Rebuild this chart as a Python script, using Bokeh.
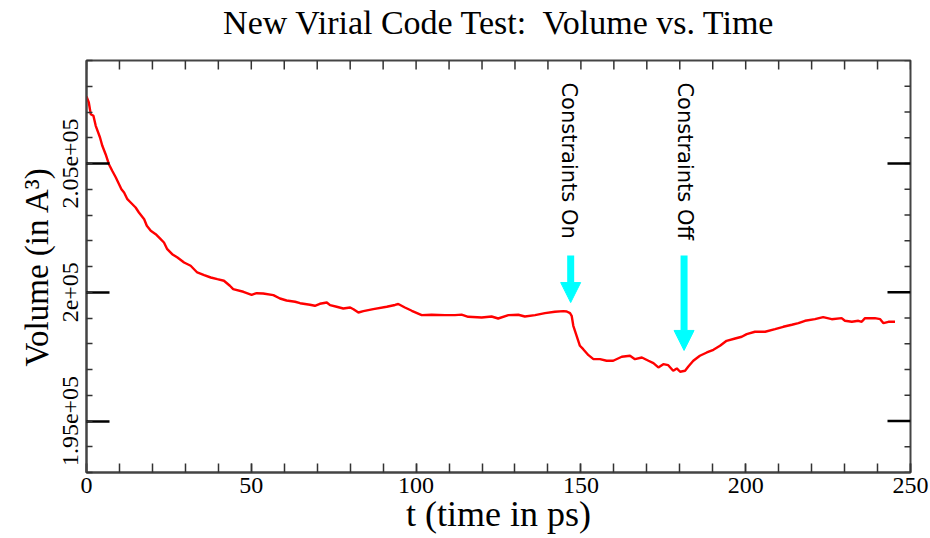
import math
from bokeh.plotting import figure
from bokeh.layouts import column
from bokeh.models import FixedTicker, Range1d, Arrow, NormalHead, ColumnDataSource
from bokeh.core.properties import value
from bokeh.embed import file_html
from bokeh.resources import INLINE

# ---- data ----
t = [0.0, 0.7, 1.3, 2.1, 2.8, 4.1, 4.8, 5.8, 6.8, 7.8, 8.9, 10.6, 11.4, 12.4, 13.4, 14.9,
     15.9, 17.5, 18.3, 19.5, 21.0, 22.5, 23.5, 24.5, 26.0, 27.6, 29.6, 31.6, 33.6, 35.7,
     37.7, 39.7, 41.7, 43.5, 44.5, 47.6, 50.1, 51.6, 53.6, 56.7, 58.7, 60.7, 63.3, 64.8,
     67.8, 69.3, 70.8, 72.9, 73.9, 75.9, 77.9, 80.0, 81.0, 82.5, 84.0, 87.0, 91.1, 93.6,
     94.6, 96.6, 98.7, 101.7, 104.7, 108.8, 111.8, 113.8, 115.8, 119.9, 122.9, 124.9,
     128.0, 131.0, 133.0, 136.1, 139.1, 142.1, 144.7, 145.7, 146.7, 147.2, 147.7, 148.7,
     149.7, 150.7, 152.3, 153.8, 155.8, 157.8, 159.8, 162.4, 164.9, 166.4, 168.5, 170.5,
     172.0, 173.5, 175.0, 176.5, 178.0, 179.1, 180.1, 181.6, 182.6, 184.1, 186.1, 188.2,
     190.2, 192.2, 194.2, 196.8, 198.8, 200.3, 202.8, 205.9, 208.9, 211.4, 214.0, 216.0,
     218.0, 221.0, 223.5, 226.1, 229.1, 230.1, 232.2, 234.2, 235.2, 236.2, 239.2, 240.8,
     241.8, 243.3, 245.3]
volume = [207602, 207369, 206914, 206852, 206464, 206010, 205687, 205361, 204973, 204717,
          204456, 204002, 203874, 203614, 203486, 203291, 203097, 202837, 202581, 202387,
          202255, 202061, 201932, 201672, 201478, 201350, 201156, 201028, 200768, 200663,
          200573, 200507, 200445, 200251, 200119, 200018, 199902, 199964, 199952, 199886,
          199758, 199680, 199630, 199575, 199513, 199474, 199552, 199603, 199498, 199436,
          199370, 199408, 199342, 199214, 199265, 199342, 199436, 199506, 199544, 199408,
          199280, 199110, 199125, 199110, 199110, 199130, 199047, 199020, 199059, 198981,
          199110, 199125, 199059, 199110, 199187, 199242, 199265, 199253, 199187, 199086,
          198698, 198310, 197921, 197789, 197556, 197401, 197401, 197339, 197339, 197494,
          197533, 197401, 197467, 197339, 197246, 197079, 197207, 197168, 196950, 197040,
          196912, 196950, 197118, 197339, 197533, 197661, 197766, 197921, 198115, 198205,
          198271, 198372, 198465, 198465, 198566, 198659, 198737, 198799, 198892, 198954,
          199032, 198954, 198993, 198892, 198853, 198892, 198853, 198993, 198993, 198954,
          198799, 198853, 198853]

x_range = (0, 250)
y_range = (193000, 209000)
x_major = [0, 50, 100, 150, 200, 250]
x_minor = list(range(0, 251, 10))
y_major = [195000, 200000, 205000]
y_major_labels = ["1.95e+05", "2e+05", "2.05e+05"]
y_minor = list(range(193000, 209001, 1000))

title_text = ["New Virial Code Test:\u00a0 Volume vs. Time"]
title_x = [125.3]
title_y = [0.5]

event_labels = ["Constraints On", "Constraints Off"]
event_label_t = [146.4, 181.6]
event_label_top = [208150, 208150]
arrow_t = [146.9, 181.3]
arrow_start = [201430, 201430]
arrow_end = [199600, 197740]

SERIF = "Liberation Serif"
FRAME = "#444444"
TITLE_H = 44

# ---- title strip ----
tf = figure(width=930, height=TITLE_H, x_range=Range1d(*x_range), y_range=Range1d(0, 1),
            output_backend="svg", toolbar_location=None,
            x_axis_location=None, y_axis_location=None,
            min_border_left=86, min_border_right=20, min_border_top=0, min_border_bottom=0)
tf.outline_line_color = None
tf.xgrid.visible = False
tf.ygrid.visible = False
tf.text(x=title_x, y=title_y, text=title_text, text_font=value(SERIF),
        text_font_size="34px", text_align="center", text_baseline="middle",
        text_color="black")

# ---- main plot ----
p = figure(width=930, height=538 - TITLE_H, x_range=Range1d(*x_range), y_range=Range1d(*y_range),
           output_backend="svg", toolbar_location=None,
           min_border_left=86, min_border_right=20, min_border_top=60 - TITLE_H,
           min_border_bottom=66,
           x_axis_label="t (time in ps)", y_axis_label="Volume (in A\u00b3)")
p.outline_line_color = FRAME
p.outline_line_width = 2
p.xgrid.visible = False
p.ygrid.visible = False
p.background_fill_color = "white"
p.border_fill_color = "white"

xa = p.xaxis[0]
xa.ticker = FixedTicker(ticks=x_major, minor_ticks=x_minor)
xa.axis_line_color = FRAME
xa.axis_line_width = 2
xa.major_tick_in = 9
xa.major_tick_out = 0
xa.minor_tick_in = 9
xa.minor_tick_out = 0
xa.major_tick_line_color = "#333333"
xa.minor_tick_line_color = "#333333"
xa.major_tick_line_width = 1.5
xa.minor_tick_line_width = 1.5
xa.major_label_text_font = SERIF
xa.major_label_text_font_size = "24px"
xa.major_label_text_color = "black"
xa.major_label_standoff = 5
xa.axis_label_text_font = SERIF
xa.axis_label_text_font_size = "36px"
xa.axis_label_text_font_style = "normal"
xa.axis_label_text_color = "black"
xa.axis_label_standoff = -2

ya = p.yaxis[0]
ya.ticker = FixedTicker(ticks=y_major, minor_ticks=y_minor)
ya.axis_line_color = FRAME
ya.axis_line_width = 2
ya.major_tick_in = 23
ya.major_tick_out = 0
ya.minor_tick_in = 6
ya.minor_tick_out = 0
ya.major_tick_line_color = "black"
ya.minor_tick_line_color = "#333333"
ya.major_tick_line_width = 2.5
ya.minor_tick_line_width = 1.5
ya.major_label_overrides = {v: s for v, s in zip(y_major, y_major_labels)}
ya.major_label_orientation = "vertical"
ya.major_label_text_font = SERIF
ya.major_label_text_font_size = "24px"
ya.major_label_text_color = "black"
ya.major_label_standoff = 9
ya.axis_label_text_font = SERIF
ya.axis_label_text_font_size = "33px"
ya.axis_label_text_font_style = "normal"
ya.axis_label_text_color = "black"
ya.axis_label_standoff = 5

# mirrored ticks on the top and right edges
top_y = [y_range[1]] * len(x_minor)
p.ray(x=x_minor, y=top_y, length=9, length_units="screen", angle=-math.pi / 2,
      line_color="#333333", line_width=1.5)
right_minor_x = [x_range[1]] * len(y_minor)
p.ray(x=right_minor_x, y=y_minor, length=6, length_units="screen", angle=math.pi,
      line_color="#333333", line_width=1.5)
right_major_x = [x_range[1]] * len(y_major)
p.ray(x=right_major_x, y=y_major, length=23, length_units="screen", angle=math.pi,
      line_color="black", line_width=2.5)

src = ColumnDataSource(data=dict(t=t, v=volume))
p.line("t", "v", source=src, line_color="#ff0000", line_width=2.4)

p.text(x=event_label_t, y=event_label_top, text=event_labels, angle=-math.pi / 2,
       text_align="left", text_baseline="middle", text_font=value("DejaVu Sans"),
       text_font_size="21px", text_color="black")

for xt, ys, ye in zip(arrow_t, arrow_start, arrow_end):
    p.add_layout(Arrow(end=NormalHead(size=20, fill_color="#00ffff", line_color="#00ffff"),
                       x_start=xt, y_start=ys, x_end=xt, y_end=ye,
                       line_color="#00ffff", line_width=7))

layout = column(tf, p, spacing=0)
open("out.html", "w").write(file_html(layout, INLINE))
